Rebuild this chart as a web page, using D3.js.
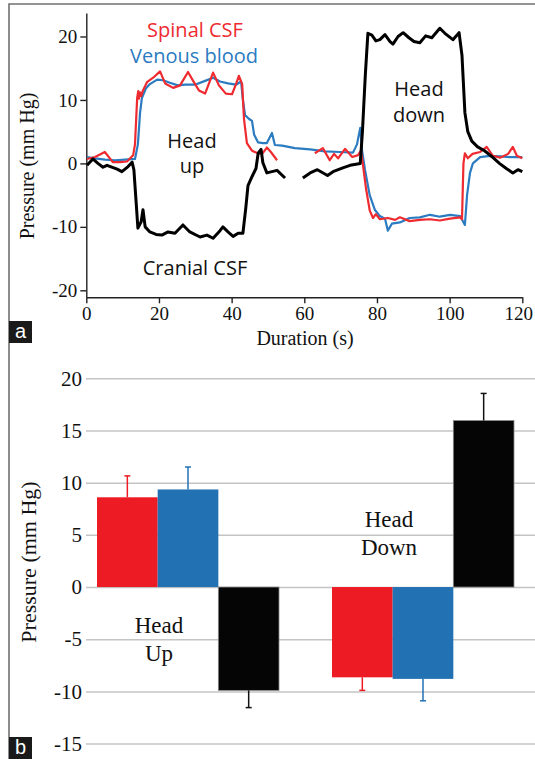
<!DOCTYPE html>
<html>
<head>
<meta charset="utf-8">
<script src="https://cdn.jsdelivr.net/npm/d3@7"></script>
<style>
  body { margin: 0; background: #fff; }
  svg { display: block; }
</style>
</head>
<body>
<svg id="fig" width="535" height="759"></svg>
<script>
// panel a: pressure traces, [time (s), pressure (mm Hg)], null = gap in the recording
var timeTicks = [0, 20, 40, 60, 80, 100, 120];
var traceTicks = [-20, -10, 0, 10, 20];

var spinalCsf = [
  [0.2, 0.7], [2.4, 1.0], [5.1, 1.8], [7.3, 0.2], [9.3, 0.2], [11.2, 0.3], [12.9, 1.3],
  [13.4, 3], [14.0, 10.3], [14.3, 11.4], [14.5, 10.2], [14.8, 11.2], [15.1, 10.6], [15.6, 11.5],
  [16.7, 12.8], [18.4, 13.5], [20.3, 14.5], [21.7, 12.6], [23.9, 11.9], [25.8, 12.3], [28.0, 14.4],
  [29.4, 13], [31.0, 11.5], [32.7, 11], [34.9, 14.3], [36.5, 12.3], [38.4, 11], [40.1, 10.9],
  [41.2, 12.5], [42.0, 13.8], [42.9, 12.5], [43.4, 7], [44.2, 3.2], [45.6, 2.0], [47.2, 1.6],
  [48.4, 1.5], [49.7, 2.5], [50.8, 1.8], [52.5, 0.5], [57, null],
  [62.9, 1.6], [65.1, 2.4], [67.0, 0.5], [68.2, 1.5], [69.3, 0.8], [71.2, 2.3], [73.2, 1.0],
  [74.8, 1.3], [75.6, 2.0], [76.2, -0.5], [77.0, -4], [78.0, -7.4], [78.9, -8.6], [79.7, -8.0],
  [80.8, -8.8], [83, -8.6], [85, -8.9], [86.3, -8.5], [89, -9.1], [91.8, -8.9], [94.6, -8.8],
  [97.3, -9.0], [100.1, -8.7], [102.9, -8.5], [103.4, -8.8], [103.8, 0], [104.2, 1.6], [105, 0.8],
  [106.3, 1.5], [108.4, 1.8], [110.2, 2.6], [111.9, 1.2], [113.9, 0.9], [116.1, 1.5], [117.4, 2.6],
  [118.5, 1.2], [120, 0.8]
];

var venousBlood = [
  [0.2, 1.0], [2.4, 0.8], [5.1, 0.6], [7.9, 0.5], [10.7, 0.6], [13.4, 0.7], [14.2, 3], [14.8, 8],
  [15.3, 10.3], [16.4, 11.8], [17.5, 12.5], [19.5, 13.2], [21.1, 13.1], [23.0, 12.7], [25.2, 12.3],
  [27.2, 12.4], [29.9, 12.4], [32.7, 13], [34.9, 13.5], [36.8, 12.9], [39.0, 12.6], [41.2, 12.4],
  [42.6, 12.9], [43.1, 10], [43.7, 7.6], [44.8, 7.0], [45.6, 6.7], [46.2, 4.5], [47.3, 3.3],
  [48.6, 3.2], [49.7, 3.2], [51.1, 4.8], [51.9, 2.9], [53.9, 2.8], [57.4, 2.4], [61.6, 2.2],
  [65.7, 1.9], [69.8, 1.8], [73.4, 1.7], [74.5, 3.0], [75.4, 5.6], [75.9, 2], [76.7, -1], [78, -5],
  [79.4, -7.3], [80.8, -8.3], [82.2, -8.7], [83.0, -10.6], [84.1, -9.5], [86.3, -9.3], [89.0, -8.6],
  [91.8, -8.5], [94.6, -8.1], [97.3, -8.4], [100.1, -8.1], [102.9, -8.3], [104.2, -9.7], [104.8, -5],
  [105.6, -1.5], [106.4, 0], [108.4, 1.0], [111.1, 1.2], [113.9, 1.1], [116.6, 1.0], [120, 1.0]
];

var cranialCsf = [
  [0.2, -0.3], [1.8, 0.7], [3.2, 0.0], [4.6, -0.6], [5.7, -0.3], [8.5, -0.9], [9.8, -1.3],
  [11.5, -0.5], [12.6, 0.2], [13.1, -1], [13.7, -6], [14.2, -10.2], [15.1, -9.2], [15.6, -7.3],
  [16.2, -10], [17.5, -10.8], [19.2, -11.2], [20.8, -11.3], [22.5, -10.8], [24.4, -11], [26.6, -9.7],
  [28.5, -10.8], [31.3, -11.6], [33.2, -11.3], [34.9, -11.8], [36.8, -10.6], [37.6, -10], [39.0, -10.8],
  [40.4, -11.5], [41.8, -11], [43.1, -11], [43.9, -7], [44.5, -3.5], [45.6, -2.1], [46.7, -0.8],
  [47.3, 1.6], [48.1, 2.2], [48.6, 0.1], [49.7, -1.5], [51.1, -1.3], [52.5, -1.1], [54.7, -2.3],
  [57, null],
  [59.6, -2.3], [61.6, -1.5], [63.6, -1.0], [66.4, -1.9], [67.9, -1.3], [70.6, -0.7], [72.6, -0.3],
  [73.4, -0.2], [75.4, 0.0], [76.0, 5], [76.8, 14], [77.5, 20.5], [78.6, 20.2], [79.7, 19.3],
  [80.8, 19.5], [82.2, 20.3], [83.6, 19.2], [84.4, 18.8], [85.8, 20], [87.2, 20.6], [88.8, 19.8],
  [90.2, 19.2], [91.8, 19], [93.4, 20.1], [95.1, 19.8], [97.3, 21.3], [98.7, 20.5], [100.9, 19.5],
  [102.6, 20.6], [103.4, 17], [104.2, 8], [105.0, 5], [106.1, 3.5], [107.7, 2.6], [109.6, 2.0],
  [111.8, 1.0], [113.7, 0.0], [115.6, -0.8], [117.4, -1.5], [118.8, -1.0], [120.0, -1.3]
];

// panel b: mean pressure change with error
var positions = ["Head Up", "Head Down"];
var barSeries = ["Spinal CSF", "Venous blood", "Cranial CSF"];
var headUpMean = [8.6, 9.35, -9.9];
var headUpErr = [2.05, 2.15, 1.65];
var headDownMean = [-8.65, -8.8, 15.95];
var headDownErr = [1.25, 2.1, 2.6];
var barTicks = [-15, -10, -5, 0, 5, 10, 15, 20];

var serif = '"Liberation Serif", "Times New Roman", serif';
var sans = '"Open Sans", sans-serif';
var red = "#ed1c24", blue = "#2271b3", black = "#050505";
var barColor = d3.scaleOrdinal().domain(barSeries).range([red, blue, black]);
var plain = d => String(d); // hyphen minus like the original, not U+2212

var svg = d3.select("#fig");

svg.append("path")
  .attr("d", "M9,759V4H535")
  .attr("fill", "none")
  .attr("stroke", "#707070")
  .attr("stroke-width", 1.6);

// ---- panel a ----
var x = d3.scaleLinear().domain([0, 120]).range([86.3, 522.3]);
var y = d3.scaleLinear().domain([-21.1, 23.7]).range([297.3, 13]);

var gA = svg.append("g");

var xAxisA = gA.append("g")
  .attr("transform", "translate(0,297.3)")
  .call(d3.axisBottom(x).tickValues(timeTicks).tickFormat(plain).tickSize(6).tickSizeOuter(0).tickPadding(3));

gA.append("g")
  .attr("transform", "translate(86.3,0)")
  .call(d3.axisLeft(y).tickValues(traceTicks).tickFormat(plain).tickSize(6).tickSizeOuter(0).tickPadding(3));

gA.selectAll(".domain, .tick line").attr("stroke", "#222").attr("stroke-width", 1.4);
gA.selectAll(".tick text").attr("font-family", serif).attr("font-size", 19).attr("fill", "#111");
xAxisA.selectAll(".tick text").filter(d => d == 120).attr("dx", -4);

var line = d3.line()
  .defined(d => d[1] !== null)
  .x(d => x(d[0]))
  .y(d => y(d[1]));

gA.append("path").datum(venousBlood)
  .attr("d", line).attr("fill", "none").attr("stroke", "#2b7bc1").attr("stroke-width", 2.2).attr("stroke-linejoin", "round");
gA.append("path").datum(spinalCsf)
  .attr("d", line).attr("fill", "none").attr("stroke", "#ee2b30").attr("stroke-width", 2.2).attr("stroke-linejoin", "round");
gA.append("path").datum(cranialCsf)
  .attr("d", line).attr("fill", "none").attr("stroke", "#000").attr("stroke-width", 3).attr("stroke-linejoin", "round");

gA.append("text").attr("x", 305).attr("y", 345).attr("text-anchor", "middle")
  .attr("font-family", serif).attr("font-size", 20).attr("fill", "#111").text("Duration (s)");
gA.append("text").attr("transform", "translate(34,166) rotate(-90)").attr("text-anchor", "middle")
  .attr("font-family", serif).attr("font-size", 20).attr("fill", "#111").text("Pressure (mm Hg)");

var labelsA = [
  {t: "Spinal CSF", x: 195, y: 37, c: "#ee2b30"},
  {t: "Venous blood", x: 194, y: 63, c: "#2b7bc1"},
  {t: "Head", x: 192, y: 148, c: "#111"},
  {t: "up", x: 192, y: 173, c: "#111"},
  {t: "Head", x: 419, y: 96, c: "#111"},
  {t: "down", x: 419, y: 122, c: "#111"},
  {t: "Cranial CSF", x: 195, y: 275, c: "#111"}
];
gA.selectAll("text.lab").data(labelsA).enter().append("text")
  .attr("class", "lab")
  .attr("x", d => d.x).attr("y", d => d.y)
  .attr("text-anchor", "middle")
  .attr("font-family", sans).attr("font-size", 20)
  .attr("fill", d => d.c)
  .text(d => d.t);

// ---- panel b ----
var yb = d3.scaleLinear().domain([-15, 20]).range([743.6, 378.3]);
var groupX = d3.scaleBand().domain(positions).range([70.5, 540.5]).paddingInner(0.2255).paddingOuter(0.1128);
var seriesX = d3.scaleBand().domain(barSeries).range([0, groupX.bandwidth()]);

var gB = svg.append("g");

gB.append("g")
  .attr("transform", "translate(86,0)")
  .call(d3.axisLeft(yb).tickValues(barTicks).tickFormat(plain).tickSize(-449).tickPadding(4));
gB.select(".domain").remove();
gB.selectAll(".tick line").attr("stroke", "#c4c4c4").attr("stroke-width", 1.5);
gB.selectAll(".tick text").attr("font-family", serif).attr("font-size", 21).attr("fill", "#111");

var rows = [];
positions.forEach(function(p, i) {
  barSeries.forEach(function(s, j) {
    rows.push({
      pos: p, series: s,
      mean: i == 0 ? headUpMean[j] : headDownMean[j],
      err: i == 0 ? headUpErr[j] : headDownErr[j]
    });
  });
});

gB.selectAll("rect.bar").data(rows).enter().append("rect")
  .attr("class", "bar")
  .attr("x", d => groupX(d.pos) + seriesX(d.series))
  .attr("width", seriesX.bandwidth())
  .attr("y", d => yb(Math.max(0, d.mean)))
  .attr("height", d => Math.abs(yb(d.mean) - yb(0)))
  .attr("fill", d => barColor(d.series))
  .attr("stroke", d => d.series == "Cranial CSF" ? "#888" : "none")
  .attr("stroke-width", 0.8);

var errG = gB.selectAll("g.err").data(rows).enter().append("g").attr("class", "err")
  .attr("stroke", d => d.series == "Cranial CSF" ? "#111" : barColor(d.series))
  .attr("stroke-width", 1.5);
errG.append("line")
  .attr("x1", d => groupX(d.pos) + seriesX(d.series) + seriesX.bandwidth() / 2)
  .attr("x2", d => groupX(d.pos) + seriesX(d.series) + seriesX.bandwidth() / 2)
  .attr("y1", d => yb(d.mean))
  .attr("y2", d => yb(d.mean + Math.sign(d.mean) * d.err));
errG.append("line")
  .attr("x1", d => groupX(d.pos) + seriesX(d.series) + seriesX.bandwidth() / 2 - 3)
  .attr("x2", d => groupX(d.pos) + seriesX(d.series) + seriesX.bandwidth() / 2 + 3)
  .attr("y1", d => yb(d.mean + Math.sign(d.mean) * d.err))
  .attr("y2", d => yb(d.mean + Math.sign(d.mean) * d.err));

gB.append("text").attr("transform", "translate(36,562) rotate(-90)").attr("text-anchor", "middle")
  .attr("font-family", serif).attr("font-size", 22).attr("fill", "#111").text("Pressure (mm Hg)");

var labelsB = [
  {t: "Head", x: 159, y: 633},
  {t: "Up", x: 159, y: 661},
  {t: "Head", x: 389, y: 527},
  {t: "Down", x: 389, y: 555}
];
gB.selectAll("text.lab").data(labelsB).enter().append("text")
  .attr("class", "lab")
  .attr("x", d => d.x).attr("y", d => d.y)
  .attr("text-anchor", "middle")
  .attr("font-family", serif).attr("font-size", 23).attr("fill", "#111")
  .text(d => d.t);

// panel letters
[["a", 321], ["b", 737]].forEach(function(p) {
  svg.append("rect").attr("x", 9).attr("y", p[1]).attr("width", 23).attr("height", 22).attr("fill", "#1a1a1a");
  svg.append("text").attr("x", 20.5).attr("y", p[1] + 17).attr("text-anchor", "middle")
    .attr("font-family", '"Liberation Sans", Arial, sans-serif').attr("font-size", 20).attr("fill", "#fff").text(p[0]);
});
</script>
</body>
</html>
